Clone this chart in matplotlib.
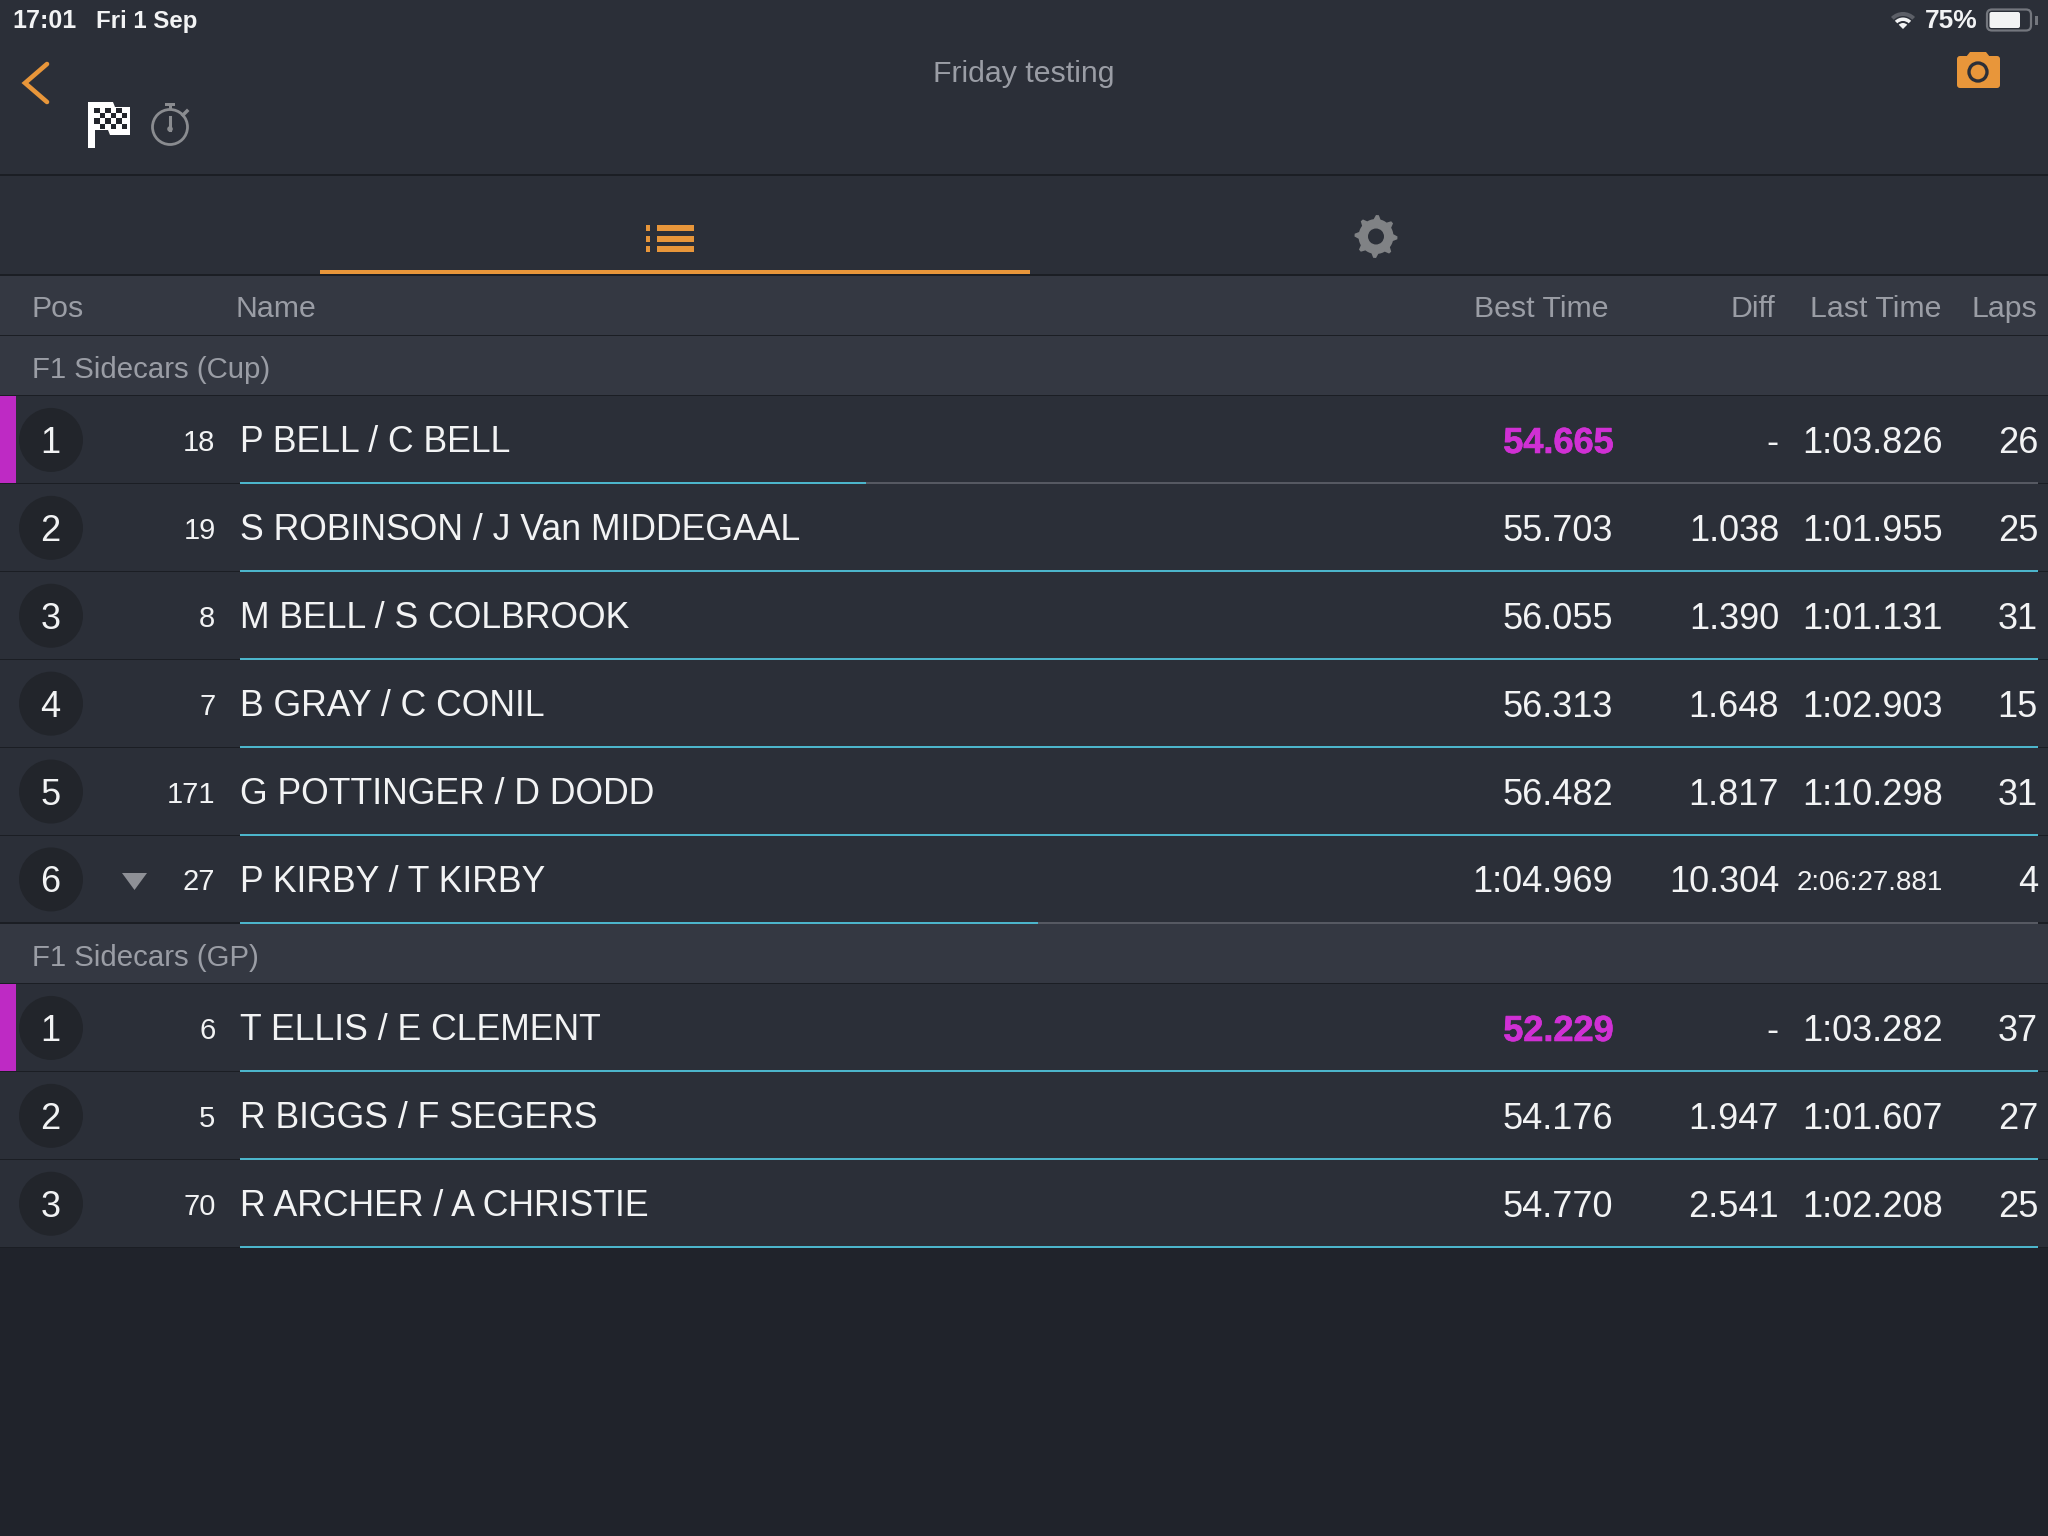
import matplotlib
matplotlib.use("Agg")
import matplotlib.pyplot as plt
import matplotlib.patheffects as pe
from matplotlib.patches import Rectangle, Circle, Polygon, FancyBboxPatch, Wedge
import numpy as np

plt.rcParams['font.family'] = ['Liberation Sans', 'DejaVu Sans']

# Results, first group
cup_title = "F1 Sidecars (Cup)"
cup_pos = ["1", "2", "3", "4", "5", "6"]
cup_numbers = ["18", "19", "8", "7", "171", "27"]
cup_names = ["P BELL / C BELL", "S ROBINSON / J Van MIDDEGAAL", "M BELL / S COLBROOK",
             "B GRAY / C CONIL", "G POTTINGER / D DODD", "P KIRBY / T KIRBY"]
cup_best = ["54.665", "55.703", "56.055", "56.313", "56.482", "1:04.969"]
cup_diff = ["-", "1.038", "1.390", "1.648", "1.817", "10.304"]
cup_last = ["1:03.826", "1:01.955", "1:01.131", "1:02.903", "1:10.298", "2:06:27.881"]
cup_laps = ["26", "25", "31", "15", "31", "4"]
cup_progress = [0.348, 1.0, 1.0, 1.0, 1.0, 0.444]

# Results, second group
gp_title = "F1 Sidecars (GP)"
gp_pos = ["1", "2", "3"]
gp_numbers = ["6", "5", "70"]
gp_names = ["T ELLIS / E CLEMENT", "R BIGGS / F SEGERS", "R ARCHER / A CHRISTIE"]
gp_best = ["52.229", "54.176", "54.770"]
gp_diff = ["-", "1.947", "2.541"]
gp_last = ["1:03.282", "1:01.607", "1:02.208"]
gp_laps = ["37", "27", "25"]
gp_progress = [1.0, 1.0, 1.0]

columns = ["Pos", "Name", "Best Time", "Diff", "Last Time", "Laps"]

# Colours
BG = "#2b2f38"
BG_BOTTOM = "#20232b"
HEADER = "#343842"
LINE = "#1b1e24"
ORANGE = "#e8963a"
PINK = "#d030d4"
BAR_PINK = "#be2ac4"
CYAN = "#4cb5cb"
GREY_TXT = "#9a9da5"
WHITE = "#f2f3f4"

ROW_H = 87.9
FONT = 26

fig = plt.figure(figsize=(20.48, 15.36), dpi=100, facecolor=BG_BOTTOM)
ax = fig.add_axes([0, 0, 1, 1])
ax.set_xlim(0, 2048)
ax.set_ylim(1536, 0)
ax.axis("off")


def rect(x0, y0, x1, y1, color, z=1):
    ax.add_patch(Rectangle((x0, y0), x1 - x0, y1 - y0, facecolor=color, edgecolor="none", zorder=z))


def draw_group(top, title, pos, numbers, names, best, diff, last, laps, progress):
    # group header band
    rect(0, top, 2048, top + 60, HEADER)
    rect(0, top + 58.5, 2048, top + 60, LINE, 2)
    ax.text(32, top + 42, title, fontsize=21.2, color=GREY_TXT, va="baseline", ha="left")
    y0 = top + 60
    for i in range(len(pos)):
        y = y0 + i * ROW_H
        cy = y + ROW_H / 2
        rect(0, y, 2048, y + ROW_H, BG)
        rect(0, y + ROW_H - 1, 2048, y + ROW_H + 0.5, LINE, 2)
        if pos[i] == "1":
            rect(0, y, 16, y + ROW_H - 1, BAR_PINK, 3)
        ax.add_patch(Circle((51, cy), 32, facecolor="#22252b", edgecolor="none", zorder=3))
        ax.text(50.5, cy + 13, pos[i], fontsize=FONT, color=WHITE, ha="center", va="baseline", zorder=4)
        ax.text(215.5, cy + 11, numbers[i], fontsize=21, color=WHITE, ha="right", va="baseline")
        ax.text(240, cy + 12.5, names[i], fontsize=25.7, color=WHITE, ha="left", va="baseline")
        # progress line under the name
        line_end = 240 + (2038 - 240) * progress[i]
        rect(240, y + ROW_H - 1.5, 2038, y + ROW_H + 0.5, "#565962", 3)
        rect(240, y + ROW_H - 1.5, line_end, y + ROW_H + 0.5, CYAN, 4)
        if i == 0:
            ax.text(1614, cy + 13, best[i], fontsize=FONT, color=PINK, ha="right", va="baseline", fontweight="bold",
                    path_effects=[pe.withStroke(linewidth=0.5, foreground=PINK)])
        else:
            ax.text(1613, cy + 13, best[i], fontsize=FONT, color=WHITE, ha="right", va="baseline")
        ax.text(1779, cy + 13, diff[i], fontsize=FONT, color=WHITE, ha="right", va="baseline")
        last_size = FONT if len(last[i]) < 9 else 20
        ax.text(1943, cy + 13 if last_size == FONT else cy + 11, last[i], fontsize=last_size,
                color=WHITE, ha="right", va="baseline")
        ax.text(2038, cy + 13, laps[i], fontsize=FONT, color=WHITE, ha="right", va="baseline")


# top bar
rect(0, 0, 2048, 1248, BG, 0)
rect(0, 174, 2048, 176, LINE, 2)
ax.text(12, 28, "17:01", fontsize=18, color=WHITE, fontweight="bold", va="baseline")
ax.text(96, 28, "Fri 1 Sep", fontsize=17.3, color=WHITE, fontweight="bold", va="baseline")
ax.text(1925, 28, "75%", fontsize=19, color=WHITE, fontweight="bold", va="baseline")
ax.text(1024, 82, "Friday testing", fontsize=21.8, color=GREY_TXT, ha="center", va="baseline")

# wifi icon
ax.add_patch(Wedge((1903, 29), 17, 225, 315, width=4, facecolor="#5c5f67", edgecolor="none", zorder=3))
ax.add_patch(Wedge((1903, 29), 11.5, 225, 315, width=3.5, facecolor=WHITE, edgecolor="none", zorder=3))
ax.add_patch(Wedge((1903, 29), 6, 225, 315, facecolor=WHITE, edgecolor="none", zorder=3))

# battery icon
ax.add_patch(FancyBboxPatch((1987, 9.5), 44, 21, boxstyle="round,pad=0,rounding_size=5",
                            facecolor="none", edgecolor="#74777e", lw=1.6, zorder=3))
ax.add_patch(FancyBboxPatch((1989.5, 12), 30.5, 16, boxstyle="round,pad=0,rounding_size=2",
                            facecolor=WHITE, edgecolor="none", zorder=4))
rect(2035, 16, 2038, 25, "#74777e", 3)

# back chevron
ax.plot([47, 25, 47], [64, 83, 102], color=ORANGE, lw=3.3, solid_joinstyle="miter", solid_capstyle="round", zorder=3)

# chequered flag
rect(88, 102, 95, 148, "white", 3)
ax.add_patch(Polygon([[88, 102], [113, 102], [115, 107], [130, 107], [130, 135], [110, 135], [108, 130], [88, 130]],
                     closed=True, facecolor="white", edgecolor="none", zorder=3))
for row in range(4):
    for col in range(6):
        if (row + col) % 2 == 0:
            rect(94 + col * 5.5, 108 + row * 5.2, 99.5 + col * 5.5, 113.2 + row * 5.2, "#22252b", 4)

# stopwatch
ax.add_patch(Circle((170, 127), 17.5, facecolor="none", edgecolor="#8a8c90", lw=2, zorder=3))
rect(168.5, 106, 171.5, 110, "#8a8c90", 3)
rect(165, 103, 175, 106, "#8a8c90", 3)
ax.plot([183, 187], [115, 111], color="#8a8c90", lw=2.5, zorder=3)
ax.plot([170, 170], [117, 130], color="#8a8c90", lw=2.2, zorder=3)
ax.add_patch(Circle((170, 129), 2.8, facecolor="#8a8c90", edgecolor="none", zorder=3))

# camera
ax.add_patch(FancyBboxPatch((1957, 56), 43, 32, boxstyle="round,pad=0,rounding_size=3",
                            facecolor=ORANGE, edgecolor="none", zorder=3))
ax.add_patch(Polygon([[1966, 57], [1970, 52], [1986, 52], [1990, 57]], closed=True,
                     facecolor=ORANGE, edgecolor="none", zorder=3))
ax.add_patch(Circle((1978, 72), 9, facecolor=ORANGE, edgecolor=BG, lw=2.4, zorder=4))

# tab strip: list icon
for yy in [225, 236, 246]:
    rect(646, yy, 650, yy + 6, ORANGE, 3)
    rect(657, yy, 694, yy + 6, ORANGE, 3)
rect(320, 270, 1030, 274, ORANGE, 3)
rect(0, 274, 2048, 276, LINE, 2)

# gear: outline with 8 teeth and a hole
t = np.linspace(0, 2 * np.pi, 49)
r = np.where(np.arange(49) % 6 < 2, 21.5, 17.5)
ax.add_patch(Polygon(np.column_stack([1376 + r * np.sin(t - 0.13), 236.5 + r * np.cos(t - 0.13)]),
                     closed=True, facecolor="#808285", edgecolor="none", zorder=3))
ax.add_patch(Circle((1376, 236.5), 8, facecolor=BG, edgecolor="none", zorder=4))

# column titles
rect(0, 276, 2048, 335, HEADER)
rect(0, 334.5, 2048, 336, LINE, 2)
col_x = [32, 236, 1609, 1775, 1941, 2037]
col_ha = ["left", "left", "right", "right", "right", "right"]
for label, x, ha in zip(columns, col_x, col_ha):
    ax.text(x, 317, label, fontsize=21.8, color=GREY_TXT, ha=ha, va="baseline")

draw_group(336, cup_title, cup_pos, cup_numbers, cup_names, cup_best, cup_diff, cup_last, cup_laps, cup_progress)
draw_group(924, gp_title, gp_pos, gp_numbers, gp_names, gp_best, gp_diff, gp_last, gp_laps, gp_progress)

# dropped position marker on the last row of the first group
ax.add_patch(Polygon([[122, 873], [147, 873], [134.5, 890]], closed=True,
                     facecolor="#8e9096", edgecolor="none", zorder=4))

fig.savefig("out.png", dpi=100, facecolor=fig.get_facecolor())
